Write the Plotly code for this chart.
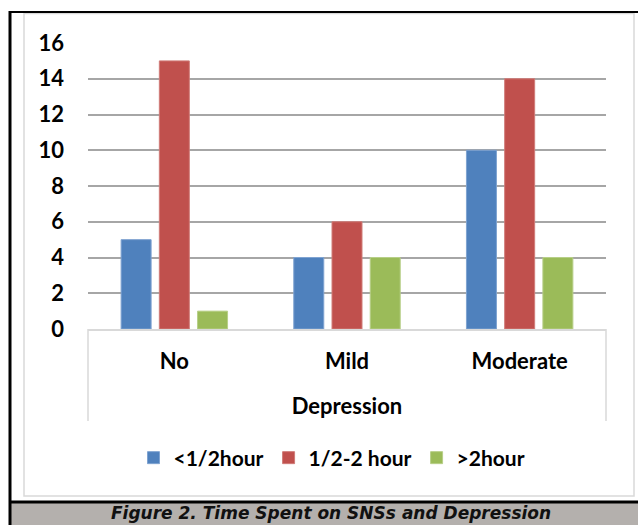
import plotly.graph_objects as go

categories = ["No", "Mild", "Moderate"]
less_half_hour = [5, 4, 10]
half_to_two_hours = [15, 6, 14]
more_two_hours = [1, 4, 4]
series_names = ["<1/2hour", "1/2-2 hour", ">2hour"]
y_ticks = [0, 2, 4, 6, 8, 10, 12, 14, 16]
x_title = "Depression"
caption = "Figure 2. Time Spent on SNSs and Depression"

colors = ["#4F81BD", "#C0504D", "#9BBB59"]
edge = ["#7fa3d1", "#d07c79", "#b7cf88"]

W, H = 638, 525
L, R, T, B = 88, 606, 43, 329  # plot area pixels

fig = go.Figure()
for name, vals, c, e in zip(series_names, [less_half_hour, half_to_two_hours, more_two_hours], colors, edge):
    fig.add_trace(go.Bar(x=categories, y=vals, name=name, marker=dict(color=c, line=dict(color=e, width=1))))

font_main = dict(family="Lato", size=22, color="#000000", weight="bold")
font_leg = dict(family="Lato", size=21, color="#000000", weight="bold")

ph = B - T
def py(p):  # pixel y -> paper y
    return (B - p) / ph
def px(p):
    return (p - L) / (R - L)

fig.update_layout(
    width=W, height=H,
    margin=dict(l=L, r=W - R, t=T, b=H - B, pad=0),
    paper_bgcolor="#ffffff", plot_bgcolor="#ffffff",
    barmode="group", bargap=0.336, bargroupgap=0.215,
    font=font_main,
    showlegend=True,
    legend=dict(orientation="h", x=px(332), xanchor="center", y=py(458), yanchor="middle",
                font=font_leg, itemwidth=30, tracegroupgap=0, bgcolor="rgba(0,0,0,0)"),
    xaxis=dict(showline=True, linecolor="#d9d9d9", linewidth=1.5, showgrid=False,
               ticks="", ticklabelstandoff=12, tickfont=font_main,
               title=dict(text=x_title, font=font_main, standoff=25), fixedrange=True),
    yaxis=dict(range=[0, 16], tickvals=y_ticks, showgrid=True, gridcolor="#a6a6a6", gridwidth=1.5,
               zeroline=False, showline=False, ticks="", ticklabelstandoff=23, tickfont=font_main,
               fixedrange=True),
)

shapes = []
# Excel category axis side lines
for xv in [0, 1]:
    shapes.append(dict(type="line", xref="paper", yref="paper", x0=xv, x1=xv, y0=0, y1=py(421),
                       line=dict(color="#d9d9d9", width=1.5)))
# inner chart border
shapes.append(dict(type="rect", xref="paper", yref="paper", x0=px(24), x1=px(634), y0=py(13.5), y1=py(496),
                   line=dict(color="#d9d9d9", width=1.5), layer="below"))
# caption band
shapes.append(dict(type="rect", xref="paper", yref="paper", x0=px(11), x1=px(640), y0=py(503), y1=py(527),
                   fillcolor="#b4b0ad", line=dict(width=0), layer="below"))
# outer black frame lines
shapes.append(dict(type="line", xref="paper", yref="paper", x0=px(10), x1=px(10), y0=py(11), y1=py(527),
                   line=dict(color="#000000", width=3)))
shapes.append(dict(type="line", xref="paper", yref="paper", x0=px(9), x1=px(640), y0=py(12), y1=py(12),
                   line=dict(color="#000000", width=2)))
shapes.append(dict(type="line", xref="paper", yref="paper", x0=px(9), x1=px(640), y0=py(502), y1=py(502),
                   line=dict(color="#000000", width=3)))
fig.update_layout(shapes=shapes)

fig.add_annotation(text=caption, xref="paper", yref="paper", x=px(331), y=py(513), xanchor="center",
                   yanchor="middle", showarrow=False,
                   font=dict(family="DejaVu Sans", size=17, color="#111111", weight="bold", style="italic"))

fig.write_html("out.html", config={"displayModeBar": False},
               post_script="document.body.style.margin='0';document.body.style.overflow='hidden';")
